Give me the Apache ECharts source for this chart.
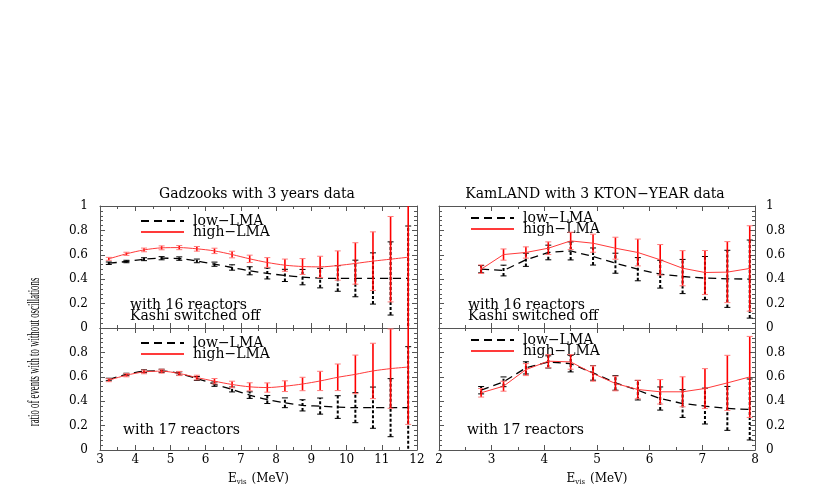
<!DOCTYPE html>
<html>
<head>
<meta charset="utf-8">
<script src="https://cdn.jsdelivr.net/npm/echarts@6/dist/echarts.min.js"></script>
<style>
  html, body { margin: 0; padding: 0; background: #fff; }
  #chart { width: 817px; height: 491px; }
</style>
</head>
<body>
<div id="chart"></div>
<script>
// energy bins (MeV)
var eGad = [3.25, 3.75, 4.25, 4.75, 5.25, 5.75, 6.25, 6.75, 7.25, 7.75, 8.25, 8.75, 9.25, 9.75, 10.25, 10.75, 11.25, 11.75];
var eKam = [2.8, 3.225, 3.65, 4.075, 4.5, 4.925, 5.35, 5.775, 6.2, 6.625, 7.05, 7.475, 7.9];

// Gadzooks, 16 reactors (Kashi off)
var gad16Low     = [0.531, 0.545, 0.564, 0.572, 0.569, 0.550, 0.523, 0.496, 0.469, 0.447, 0.431, 0.417, 0.409, 0.406, 0.406, 0.406, 0.406, 0.406];
var gad16LowErr  = [0.010, 0.010, 0.012, 0.013, 0.014, 0.015, 0.017, 0.022, 0.033, 0.045, 0.050, 0.063, 0.080, 0.105, 0.150, 0.210, 0.300, 0.430];
var gad16High    = [0.567, 0.608, 0.640, 0.657, 0.659, 0.649, 0.632, 0.602, 0.567, 0.537, 0.515, 0.504, 0.501, 0.512, 0.529, 0.548, 0.564, 0.580];
var gad16HighErr = [0.012, 0.013, 0.015, 0.016, 0.017, 0.019, 0.022, 0.027, 0.030, 0.040, 0.050, 0.065, 0.087, 0.120, 0.170, 0.240, 0.350, 0.600];

// Gadzooks, 17 reactors
var gad17Low     = [0.578, 0.619, 0.646, 0.649, 0.627, 0.586, 0.540, 0.496, 0.450, 0.414, 0.387, 0.366, 0.360, 0.352, 0.347, 0.347, 0.347, 0.347];
var gad17LowErr  = [0.010, 0.010, 0.012, 0.013, 0.014, 0.016, 0.018, 0.020, 0.027, 0.033, 0.040, 0.046, 0.066, 0.093, 0.123, 0.169, 0.238, 0.500];
var gad17High    = [0.572, 0.613, 0.640, 0.646, 0.627, 0.594, 0.564, 0.537, 0.518, 0.512, 0.523, 0.541, 0.566, 0.596, 0.620, 0.648, 0.667, 0.680];
var gad17HighErr = [0.012, 0.013, 0.015, 0.016, 0.017, 0.019, 0.022, 0.027, 0.033, 0.038, 0.044, 0.055, 0.079, 0.109, 0.158, 0.227, 0.325, 0.470];

// KamLAND, 16 reactors (Kashi off)
var kam16Low     = [0.482, 0.471, 0.559, 0.619, 0.632, 0.586, 0.531, 0.482, 0.441, 0.422, 0.409, 0.403, 0.401];
var kam16LowErr  = [0.030, 0.044, 0.054, 0.060, 0.074, 0.070, 0.082, 0.095, 0.114, 0.140, 0.177, 0.234, 0.320];
var kam16High    = [0.482, 0.602, 0.619, 0.654, 0.714, 0.695, 0.654, 0.619, 0.559, 0.490, 0.455, 0.458, 0.488];
var kam16HighErr = [0.035, 0.046, 0.046, 0.052, 0.071, 0.074, 0.090, 0.110, 0.125, 0.144, 0.180, 0.250, 0.350];

// KamLAND, 17 reactors
var kam17Low     = [0.490, 0.559, 0.673, 0.722, 0.708, 0.632, 0.550, 0.490, 0.422, 0.381, 0.360, 0.341, 0.332];
var kam17LowErr  = [0.030, 0.040, 0.050, 0.050, 0.068, 0.060, 0.060, 0.080, 0.095, 0.114, 0.147, 0.180, 0.250];
var kam17High    = [0.469, 0.523, 0.659, 0.728, 0.722, 0.627, 0.545, 0.496, 0.477, 0.477, 0.504, 0.550, 0.599];
var kam17HighErr = [0.035, 0.041, 0.049, 0.054, 0.060, 0.063, 0.060, 0.076, 0.100, 0.123, 0.163, 0.226, 0.332];

var yTicks = [0, 0.2, 0.4, 0.6, 0.8, 1];

var serif = 'DejaVu Serif';
var axisColor = '#555';

function zip3(xs, ys, es) {
  return xs.map(function (x, i) { return [x, ys[i], es[i]]; });
}

function errRender(color, capColor, dashed) {
  return function (params, api) {
    var x = api.value(0), y = api.value(1), e = api.value(2);
    var lo = api.coord([x, y - e]);
    var hi = api.coord([x, y + e]);
    var w = 3;
    var st = { stroke: color, lineWidth: dashed ? 2 : 1.6 };
    if (dashed) st.lineDash = [3, 2];
    return {
      type: 'group',
      children: [
        { type: 'line', shape: { x1: lo[0], y1: lo[1], x2: hi[0], y2: hi[1] }, style: st },
        { type: 'line', shape: { x1: lo[0] - w, y1: lo[1], x2: lo[0] + w, y2: lo[1] }, style: { stroke: capColor, lineWidth: 1 } },
        { type: 'line', shape: { x1: hi[0] - w, y1: hi[1], x2: hi[0] + w, y2: hi[1] }, style: { stroke: capColor, lineWidth: 1 } }
      ]
    };
  };
}

var grids = [
  { left: 100, top: 206, width: 317, height: 122 },
  { left: 100, top: 328, width: 317, height: 122 },
  { left: 439, top: 206, width: 316, height: 122 },
  { left: 439, top: 328, width: 316, height: 122 }
];

var xRange = [[3, 12], [3, 12], [2, 8], [2, 8]];

var xAxes = [], yAxes = [];
grids.forEach(function (g, i) {
  var bottomRow = (i === 1 || i === 3);
  xAxes.push({
    gridIndex: i, type: 'value', min: xRange[i][0], max: xRange[i][1], interval: 1,
    position: 'bottom',
    splitLine: { show: false },
    axisLine: { show: true, onZero: false, lineStyle: { color: axisColor, width: 1 } },
    axisTick: { inside: true, length: 5, lineStyle: { color: axisColor } },
    minorTick: { show: true, splitNumber: 2, length: 3, lineStyle: { color: axisColor } },
    name: bottomRow ? '{e|E}{s|vis} (MeV)' : '',
    nameLocation: 'middle', nameGap: 22,
    nameTextStyle: {
      color: '#000', fontFamily: serif,
      rich: {
        e: { fontSize: 12, fontFamily: serif, color: '#000' },
        s: { fontSize: 7, fontFamily: serif, color: '#000', padding: [7, 1, 0, 0] }
      }
    },
    axisLabel: { show: bottomRow, color: '#000', fontFamily: serif, fontSize: 12, margin: 4 }
  });
});
grids.forEach(function (g, i) {
  xAxes.push({
    gridIndex: i, type: 'value', min: xRange[i][0], max: xRange[i][1], interval: 1, position: 'top',
    splitLine: { show: false },
    axisLine: { show: true, onZero: false, lineStyle: { color: axisColor, width: 1 } },
    axisTick: { inside: true, length: 5, lineStyle: { color: axisColor } },
    minorTick: { show: true, splitNumber: 2, length: 3, lineStyle: { color: axisColor } },
    axisLabel: { show: false }
  });
});

function yAxis(i, pos, labels) {
  var bottomRow = (i === 1 || i === 3);
  return {
    gridIndex: i, type: 'value', min: 0, max: 1, interval: 0.2, position: pos,
    splitLine: { show: false },
    axisLine: { show: true, onZero: false, lineStyle: { color: axisColor, width: 1 } },
    axisTick: { inside: true, length: 5, lineStyle: { color: axisColor } },
    minorTick: { show: true, splitNumber: 5, length: 3, lineStyle: { color: axisColor } },
    axisLabel: {
      show: labels, color: '#000', fontFamily: serif, fontSize: 12, margin: pos === 'left' ? 12 : 11,
      formatter: function (v) {
        if (bottomRow && v > 0.99) return '';
        var t = yTicks.find(function (k) { return Math.abs(k - v) < 1e-6; });
        return t === undefined ? '' : String(t);
      }
    }
  };
}
// left axes (labels for left column), right axes (labels for right column)
for (var i = 0; i < 4; i++) yAxes.push(yAxis(i, 'left', i < 2));
for (var j = 0; j < 4; j++) yAxes.push(yAxis(j, 'right', j >= 2));

var panels = [
  { e: eGad, lo: gad16Low, loErr: gad16LowErr, hi: gad16High, hiErr: gad16HighErr, smooth: 0.3 },
  { e: eGad, lo: gad17Low, loErr: gad17LowErr, hi: gad17High, hiErr: gad17HighErr, smooth: 0.3 },
  { e: eKam, lo: kam16Low, loErr: kam16LowErr, hi: kam16High, hiErr: kam16HighErr, smooth: false },
  { e: eKam, lo: kam17Low, loErr: kam17LowErr, hi: kam17High, hiErr: kam17HighErr, smooth: false }
];

var series = [];
panels.forEach(function (p, i) {
  series.push({
    name: 'lowErr' + i, type: 'custom', xAxisIndex: i, yAxisIndex: i, clip: true,
    renderItem: errRender('#000', '#000', true),
    data: zip3(p.e, p.lo, p.loErr), z: 2, silent: true
  });
  series.push({
    name: 'low\u2212LMA', type: 'line', xAxisIndex: i, yAxisIndex: i,
    data: p.e.map(function (x, k) { return [x, p.lo[k]]; }),
    symbol: 'none', showSymbol: false, smooth: p.smooth,
    lineStyle: { color: '#000', width: 1.3, type: [8, 5] },
    itemStyle: { color: '#000' }, z: 3, animation: false
  });
  series.push({
    name: 'highErr' + i, type: 'custom', xAxisIndex: i, yAxisIndex: i, clip: true,
    renderItem: errRender('#f00', '#ff7a7a', false),
    data: zip3(p.e, p.hi, p.hiErr), z: 4, silent: true
  });
  series.push({
    name: 'high\u2212LMA', type: 'line', xAxisIndex: i, yAxisIndex: i,
    data: p.e.map(function (x, k) { return [x, p.hi[k]]; }),
    symbol: 'none', showSymbol: false, smooth: p.smooth,
    lineStyle: { color: '#ff3a3a', width: 1 },
    itemStyle: { color: '#ff3a3a' }, z: 5, animation: false
  });
});

var legendPos = [[135, 209], [135, 331], [465, 206], [465, 328]];
var legends = legendPos.map(function (p) {
  return {
    left: p[0], top: p[1], orient: 'vertical', itemWidth: 43, itemHeight: 11, itemGap: -3,
    selectedMode: false,
    itemStyle: { opacity: 0, borderWidth: 0 },
    data: [{ name: 'low\u2212LMA' }, { name: 'high\u2212LMA' }],
    textStyle: { color: '#000', fontFamily: serif, fontSize: 14, padding: [0, 0, 0, 4] }
  };
});

function txt(text, left, top, align) {
  return {
    text: text, left: left, top: top, textAlign: align || 'left', padding: 0,
    textStyle: { color: '#000', fontFamily: serif, fontSize: 14, fontWeight: 'normal' }
  };
}

var option = {
  animation: false,
  backgroundColor: '#fff',
  grid: grids,
  xAxis: xAxes,
  yAxis: yAxes,
  legend: legends,
  title: [
    txt('Gadzooks with 3 years data', 257, 187, 'center'),
    txt('KamLAND with 3 KTON\u2212YEAR data', 595, 187, 'center'),
    txt('with 16 reactors', 130, 298),
    txt('Kashi switched off', 130, 309),
    txt('with 16 reactors', 468, 298),
    txt('Kashi switched off', 468, 309),
    txt('with 17 reactors', 123, 423),
    txt('with 17 reactors', 467, 423)
  ],
  graphic: [{
    type: 'text', x: 35, y: 352, rotation: Math.PI / 2, scaleX: 0.55,
    style: {
      text: 'ratio of events with to without oscillations',
      font: '16px "Liberation Serif"', fill: '#000', align: 'center', verticalAlign: 'middle'
    }
  }],
  series: series
};

var chart = echarts.init(document.getElementById('chart'));
chart.setOption(option);
</script>
</body>
</html>
